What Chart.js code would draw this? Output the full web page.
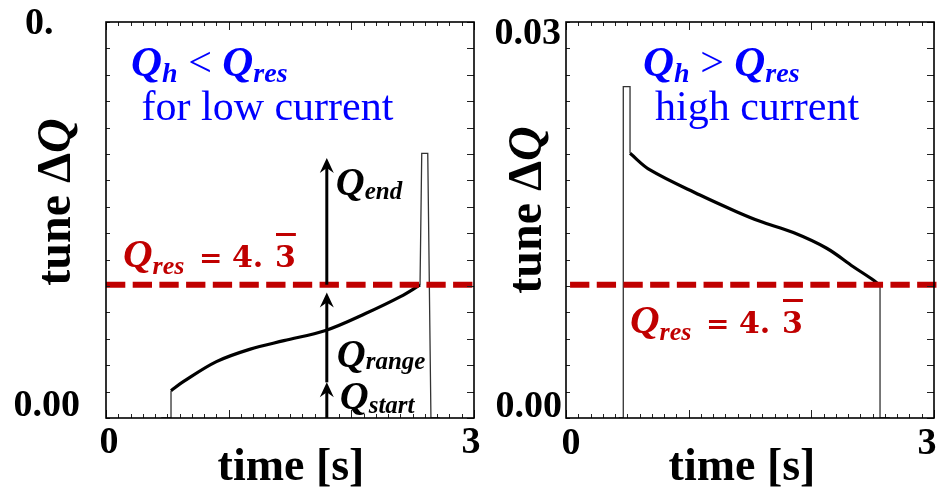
<!DOCTYPE html>
<html>
<head>
<meta charset="utf-8">
<title>Tune shift during the ramp</title>
<script src="https://cdn.jsdelivr.net/npm/chart.js@4/dist/chart.umd.min.js"></script>
<style>
  html, body { margin: 0; padding: 0; background: #fff; }
  #wrap { position: relative; width: 944px; height: 491px; overflow: hidden; background: #fff; }
  .panel { position: absolute; top: 0; height: 491px; }
  canvas { display: block; }
</style>
</head>
<body>
<div id="wrap">
  <div class="panel" style="left:0;width:480px"><canvas id="lowCurrent" width="480" height="491"></canvas></div>
  <div class="panel" style="left:480px;width:464px"><canvas id="highCurrent" width="464" height="491"></canvas></div>
</div>
<script>
// ---- axis ranges and tick labels ----
const timeRange = [0, 3];              // s
const tuneRange = [0, 0.03];           // ΔQ
const xTickValues = [0, 3];
const xTickLabels = ['0', '3'];
const yTickValues = [0, 0.03];
const yTickLabelsLow = ['0.00', '0.'];
const yTickLabelsHigh = ['0.00', '0.03'];
const minorTimeStep = 0.1;
const minorTuneStep = 0.002;

// resonance line Q_res = 4.3̄ expressed as tune shift
const resonanceTune = 0.0101;

// ---- low current: tune rises towards the resonance ----
const lowStepTime = [0.45, 0.53, 0.53];
const lowStepTune = [0, 0, 0.00207];
const lowRampTime = [0.53, 0.63, 0.90, 1.17, 1.45, 1.79, 2.12, 2.40, 2.56];
const lowRampTune = [0.00207, 0.00275, 0.00427, 0.00520, 0.00586, 0.00663, 0.00793, 0.00919, 0.01008];
const lowSpikeTime = [2.56, 2.574, 2.623, 2.649, 2.72];
const lowSpikeTune = [0.01008, 0.02005, 0.02005, 0, 0];

// arrows marking start, range and end of the tune ramp
const arrowTime = 1.80;
const arrowFrom = [0, 0.0027, 0.0101];
const arrowTo = [0.0027, 0.0095, 0.0197];
const arrowNames = ['start', 'range', 'end'];

// ---- high current: tune falls towards the resonance ----
const highStepTime = [0.43, 0.467, 0.467, 0.522, 0.522];
const highStepTune = [0, 0, 0.0251, 0.0251, 0.02005];
const highRampTime = [0.522, 0.685, 1.092, 1.39, 1.582, 1.853, 2.125, 2.342, 2.505, 2.55];
const highRampTune = [0.02005, 0.01879, 0.01689, 0.01563, 0.01490, 0.01405, 0.01286, 0.01146, 0.01045, 0.0101];
const highDropTime = [2.55, 2.56, 2.56, 2.64];
const highDropTune = [0.0101, 0.0101, 0, 0];

const toPoints = (xs, ys) => xs.map((x, i) => ({ x: x, y: ys[i] }));

const SERIF = '"Liberation Serif", "Times New Roman", serif';
const fQ = s => `italic bold ${s}px ${SERIF}`;
const fR = s => `${s}px ${SERIF}`;
const fB = s => `bold ${s}px ${SERIF}`;
const fD = s => `bold ${s}px "DejaVu Serif", serif`;
const BLUE = '#0000ff';
const RED = '#c00000';

// draws a run of differently styled text pieces along one baseline
function drawRich(ctx, x, y, parts) {
  let cx = x;
  ctx.textBaseline = 'alphabetic';
  ctx.textAlign = 'left';
  for (const p of parts) {
    if (p.at !== undefined) cx = x + p.at;
    ctx.font = p.font;
    ctx.fillStyle = p.color || '#000';
    ctx.fillText(p.text, cx, y + (p.dy || 0));
    const w = ctx.measureText(p.text).width;
    if (p.overline) ctx.fillRect(cx + 1, y - p.overline, w - 1, 3);
    cx += w;
  }
  return cx - x;
}

function richWidth(ctx, parts) {
  let w = 0;
  for (const p of parts) { ctx.font = p.font; w += ctx.measureText(p.text).width; }
  return w;
}

function resonanceLabel(ctx, x, y) {
  drawRich(ctx, x, y, [
    { text: 'Q', font: fQ(41), color: RED },
    { text: 'res', font: fQ(26), color: RED, dy: 7 },
    { text: '=', font: fD(28), color: RED, at: 76 },
    { text: '4.', font: fD(30), color: RED, at: 109 },
    { text: '3', font: fD(30), color: RED, at: 152, overline: 34 }
  ]);
}

function arrowUp(ctx, x, yBase, yTip) {
  const head = 15, half = 7;
  ctx.strokeStyle = '#000';
  ctx.lineWidth = 3;
  ctx.beginPath();
  ctx.moveTo(x, yBase);
  ctx.lineTo(x, yTip + 9);
  ctx.stroke();
  ctx.fillStyle = '#000';
  ctx.beginPath();
  ctx.moveTo(x, yTip);
  ctx.lineTo(x + half, yTip + head);
  ctx.lineTo(x, yTip + head - 5);
  ctx.lineTo(x - half, yTip + head);
  ctx.closePath();
  ctx.fill();
}

// per-panel annotation painters, keyed by canvas id
const annotators = {
  lowCurrent(ctx, xs, ys) {
    drawRich(ctx, 131, 76, [
      { text: 'Q', font: fQ(43), color: BLUE },
      { text: 'h', font: fQ(28), color: BLUE, dy: 6 },
      { text: ' < ', font: fR(42), color: BLUE },
      { text: 'Q', font: fQ(43), color: BLUE },
      { text: 'res', font: fQ(28), color: BLUE, dy: 6 }
    ]);
    drawRich(ctx, 141.5, 120, [{ text: 'for low current', font: fR(42), color: BLUE }]);
    resonanceLabel(ctx, 123, 267);

    const ax = xs.getPixelForValue(arrowTime);
    arrowNames.forEach((name, i) => {
      arrowUp(ctx, ax, ys.getPixelForValue(arrowFrom[i]), ys.getPixelForValue(arrowTo[i]));
    });
    const labelPos = { end: [9, 195, 4], range: [10, 367, 2], start: [13, 409, 4] };
    arrowNames.forEach(name => {
      const [dx, y, dy] = labelPos[name];
      drawRich(ctx, ax + dx, y, [
        { text: 'Q', font: fQ(40) },
        { text: name, font: fQ(25), dy: dy }
      ]);
    });
  },
  highCurrent(ctx) {
    drawRich(ctx, 163, 76, [
      { text: 'Q', font: fQ(43), color: BLUE },
      { text: 'h', font: fQ(28), color: BLUE, dy: 6 },
      { text: ' > ', font: fR(42), color: BLUE },
      { text: 'Q', font: fQ(43), color: BLUE },
      { text: 'res', font: fQ(28), color: BLUE, dy: 6 }
    ]);
    drawRich(ctx, 175, 120, [{ text: 'high current', font: fR(42), color: BLUE }]);
    resonanceLabel(ctx, 150, 333);
  }
};

// frame, inward ticks, tick labels, axis titles and panel annotations
const framePlugin = {
  id: 'panelFrame',
  afterDraw(chart, args, cfg) {
    const ctx = chart.ctx;
    const a = chart.chartArea;
    const xs = chart.scales.x, ys = chart.scales.y;
    ctx.save();

    // inward tick marks on all four sides
    ctx.strokeStyle = '#222';
    ctx.lineWidth = 1;
    ctx.beginPath();
    const nX = Math.round((timeRange[1] - timeRange[0]) / minorTimeStep);
    for (let i = 0; i <= nX; i++) {
      const t = timeRange[0] + i * minorTimeStep;
      const px = Math.round(xs.getPixelForValue(t)) + 0.5;
      const len = (i % 10 === 0) ? 8 : 4;
      ctx.moveTo(px, a.bottom); ctx.lineTo(px, a.bottom - len);
      ctx.moveTo(px, a.top); ctx.lineTo(px, a.top + len);
    }
    const nY = Math.round((tuneRange[1] - tuneRange[0]) / minorTuneStep);
    for (let i = 0; i <= nY; i++) {
      const v = tuneRange[0] + i * minorTuneStep;
      const py = Math.round(ys.getPixelForValue(v)) + 0.5;
      ctx.moveTo(a.left, py); ctx.lineTo(a.left + 4, py);
      ctx.moveTo(a.right, py); ctx.lineTo(a.right - 7, py);
    }
    ctx.stroke();

    // frame
    ctx.lineWidth = 1.6;
    ctx.strokeStyle = '#000';
    ctx.strokeRect(a.left, a.top, a.right - a.left, a.bottom - a.top);

    // tick labels
    ctx.fillStyle = '#000';
    ctx.font = fB(38);
    ctx.textBaseline = 'middle';
    ctx.textAlign = 'center';
    xTickValues.forEach((v, i) => {
      ctx.fillText(xTickLabels[i], xs.getPixelForValue(v) + cfg.xLabelDx[i], cfg.xLabelY);
    });
    yTickValues.forEach((v, i) => {
      ctx.textAlign = cfg.yLabelAlign[i];
      ctx.fillText(cfg.yLabels[i], cfg.yLabelX[i], ys.getPixelForValue(v) + cfg.yLabelDy[i]);
    });

    // axis titles
    ctx.textAlign = 'center';
    ctx.textBaseline = 'alphabetic';
    ctx.font = fB(46);
    ctx.fillText('time [s]', (a.left + a.right) / 2 + cfg.xTitleDx, 480);

    const yTitle = [
      { text: 'tune \u0394', font: fB(48) },
      { text: 'Q', font: fQ(48) }
    ];
    ctx.save();
    ctx.translate(cfg.yTitleX, cfg.yTitleY);
    ctx.rotate(-Math.PI / 2);
    drawRich(ctx, -richWidth(ctx, yTitle) / 2, 0, yTitle);
    ctx.restore();

    // panel annotations
    annotators[chart.canvas.id](ctx, xs, ys, a);
    ctx.restore();
  }
};

function makePanel(canvasId, datasets, frame, padLeft, padRight) {
  return new Chart(document.getElementById(canvasId), {
    type: 'line',
    data: { datasets: datasets },
    options: {
      responsive: false,
      animation: false,
      devicePixelRatio: 1,
      layout: { padding: { left: padLeft, right: padRight, top: 22, bottom: 73 } },
      elements: { point: { radius: 0 } },
      plugins: {
        legend: { display: false },
        tooltip: { enabled: false },
        panelFrame: frame
      },
      scales: {
        x: { type: 'linear', min: timeRange[0], max: timeRange[1], display: false },
        y: { type: 'linear', min: tuneRange[0], max: tuneRange[1], display: false }
      }
    },
    plugins: [framePlugin]
  });
}

function resonanceDataset(tStart, tEnd) {
  return {
    data: [{ x: tStart, y: resonanceTune }, { x: tEnd, y: resonanceTune }],
    borderColor: RED, borderWidth: 6, borderDash: [19.3, 7.4],
    borderCapStyle: 'butt', clip: false, order: 0
  };
}

const thin = { borderColor: '#333', borderWidth: 1.3, tension: 0, order: 2 };
const thick = { borderColor: '#000', borderWidth: 3.2, tension: 0.35, order: 1 };

// ---- left panel: low current ----
makePanel('lowCurrent', [
  resonanceDataset(0, 3.033),
  Object.assign({ data: toPoints(lowRampTime, lowRampTune) }, thick),
  Object.assign({ data: toPoints(lowStepTime, lowStepTune) }, thin),
  Object.assign({ data: toPoints(lowSpikeTime, lowSpikeTune) }, thin)
], {
  xLabelDx: [3, -3], xLabelY: 443,
  yLabels: yTickLabelsLow, yLabelX: [80, 25], yLabelAlign: ['right', 'left'], yLabelDy: [-12, 2],
  xTitleDx: 1, yTitleX: 70, yTitleY: 202
}, 106, 6);

// ---- right panel: high current ----
makePanel('highCurrent', [
  resonanceDataset(0.033, 3.08),
  Object.assign({ data: toPoints(highRampTime, highRampTune) }, thick),
  Object.assign({ data: toPoints(highStepTime, highStepTune) }, thin),
  Object.assign({ data: toPoints(highDropTime, highDropTune) }, thin)
], {
  xLabelDx: [5, -7], xLabelY: 444,
  yLabels: yTickLabelsHigh, yLabelX: [82, 81], yLabelAlign: ['right', 'right'], yLabelDy: [-11, 12],
  xTitleDx: -8, yTitleX: 61, yTitleY: 210
}, 86, 10);
</script>
</body>
</html>
